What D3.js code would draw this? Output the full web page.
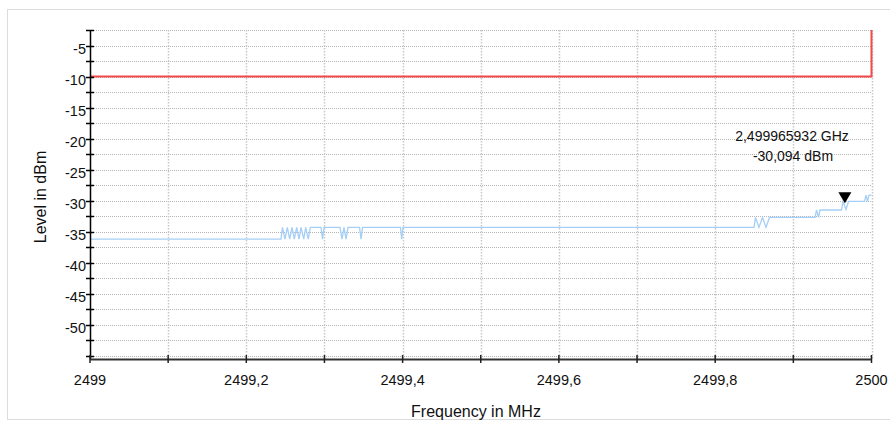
<!DOCTYPE html>
<html><head><meta charset="utf-8">
<script src="https://cdn.jsdelivr.net/npm/d3@7"></script>
<style>
html,body{margin:0;padding:0;background:#fff;}
svg{display:block;font-family:"Liberation Sans",Arial,sans-serif;}
</style></head>
<body>
<svg id="chart" width="890" height="421"></svg>
<script>
// ---- data ----
const xDomain = [2499, 2500];
const yDomain = [-55.5, -2.5];
const xTickValues = [2499, 2499.1, 2499.2, 2499.3, 2499.4, 2499.5, 2499.6, 2499.7, 2499.8, 2499.9, 2500];
const xTickLabels = ["2499", "", "2499,2", "", "2499,4", "", "2499,6", "", "2499,8", "", "2500"];
const yTickValues = [-5, -10, -15, -20, -25, -30, -35, -40, -45, -50];
const yTickLabels = ["-5", "-10", "-15", "-20", "-25", "-30", "-35", "-40", "-45", "-50"];
const limitFreq = [2499, 2500, 2500];
const limitLevel = [-10, -10, -2.5];
const traceFreq = [
  2499.0000, 2499.2444, 2499.2463, 2499.2495, 2499.2525, 2499.2555, 2499.2585, 2499.2614,
  2499.2645, 2499.2674, 2499.2700, 2499.2735, 2499.2760, 2499.2793, 2499.2819, 2499.2956,
  2499.2975, 2499.2994, 2499.3199, 2499.3225, 2499.3250, 2499.3276, 2499.3301, 2499.3449,
  2499.3468, 2499.3487, 2499.3973, 2499.3989, 2499.4005, 2499.8497, 2499.8516, 2499.8560,
  2499.8605, 2499.8650, 2499.8695, 2499.9277, 2499.9296, 2499.9322, 2499.9341, 2499.9616,
  2499.9635, 2499.9674, 2499.9706, 2499.9911, 2499.9930, 2499.9949, 2499.9968, 2500.0000
];
const traceLevel = [
  -36.2, -36.2, -34.3, -36.2, -34.3, -36.2, -34.3, -36.2,
  -34.3, -36.2, -34.3, -36.2, -34.3, -36.2, -34.3, -34.3,
  -36.2, -34.3, -34.3, -36.2, -34.3, -36.2, -34.3, -34.3,
  -36.2, -34.3, -34.3, -36.2, -34.3, -34.3, -32.7, -34.3,
  -32.7, -34.3, -32.7, -32.7, -31.5, -32.7, -31.5, -31.5,
  -30.1, -31.4, -30.1, -30.1, -29.1, -30.1, -29.1, -29.1
];
const markerFreq = 2499.965932;
const markerLevel = -30.094;
const markerLabel = ["2,499965932 GHz", "-30,094 dBm"];
const xTitle = "Frequency in MHz";
const yTitle = "Level in dBm";

// ---- layout ----
const svg = d3.select("#chart");
const L = 90, R = 871.5, T = 30, B = 359;
const x = d3.scaleLinear().domain(xDomain).range([L, R]);
const y = d3.scaleLinear().domain(yDomain).range([B, T]);

// outer frame
svg.append("rect").attr("x", 7.5).attr("y", 9.5).attr("width", 890).attr("height", 410)
  .attr("fill", "#fff").attr("stroke", "#dcdcdc").attr("stroke-width", 1);

// grid
const yMinor = d3.range(-55, -2.4, 2.5);
svg.append("g").selectAll("line").data(yMinor).join("line")
  .attr("x1", L).attr("x2", R)
  .attr("y1", d => Math.round(y(d)) + 0.5).attr("y2", d => Math.round(y(d)) + 0.5)
  .attr("stroke", "#b4b4b4").attr("stroke-width", 1).attr("stroke-dasharray", "1,1");
svg.append("g").selectAll("line").data(xTickValues.slice(1)).join("line")
  .attr("x1", d => Math.round(x(d)) + 0.5).attr("x2", d => Math.round(x(d)) + 0.5)
  .attr("y1", T).attr("y2", B)
  .attr("stroke", "#c8c8c8").attr("stroke-width", 1.5).attr("stroke-dasharray", "1.5,1.5");

// limit line
svg.append("path")
  .datum(limitFreq.map((f, i) => [f, limitLevel[i]]))
  .attr("d", d3.line().x(d => x(d[0])).y(d => y(d[1])))
  .attr("fill", "none").attr("stroke", "#f24a4a").attr("stroke-width", 2);

// trace
svg.append("path")
  .datum(traceFreq.map((f, i) => [f, traceLevel[i]]))
  .attr("d", d3.line().x(d => x(d[0])).y(d => y(d[1])))
  .attr("fill", "none").attr("stroke", "#a6cff7").attr("stroke-width", 1.3);

// y axis
const yAxis = d3.axisLeft(y).tickValues(yMinor).tickSize(0).tickFormat("");
const yg = svg.append("g").attr("transform", `translate(${L},0)`).call(yAxis);
yg.select(".domain").attr("stroke", "#000").attr("stroke-width", 1.5);
svg.append("g").selectAll("line").data(yMinor).join("line")
  .attr("x1", L - 4).attr("x2", L + 4)
  .attr("y1", d => Math.round(y(d)) + 0.5).attr("y2", d => Math.round(y(d)) + 0.5)
  .attr("stroke", "#000").attr("stroke-width", 1.5);
svg.append("g").selectAll("text").data(yTickValues).join("text")
  .attr("x", L - 4).attr("y", d => y(d) + 3)
  .attr("dy", "0.35em").attr("text-anchor", "end")
  .attr("font-size", "14.5px").attr("fill", "#111")
  .text((d, i) => yTickLabels[i]);

// x axis
const xAxis = d3.axisBottom(x).tickValues(xTickValues).tickSize(0).tickFormat("");
const xg = svg.append("g").attr("transform", `translate(0,${B})`).call(xAxis);
xg.select(".domain").attr("stroke", "#333").attr("stroke-width", 2);
svg.append("g").selectAll("line").data(xTickValues).join("line")
  .attr("x1", d => x(d)).attr("x2", d => x(d))
  .attr("y1", B - 4).attr("y2", B + 4)
  .attr("stroke", "#222").attr("stroke-width", 1.5);
svg.append("g").selectAll("text").data(xTickValues).join("text")
  .attr("x", d => x(d)).attr("y", 385)
  .attr("text-anchor", "middle").attr("font-size", "14.5px").attr("fill", "#111")
  .text((d, i) => xTickLabels[i]);

// titles
svg.append("text").attr("x", 476).attr("y", 417).attr("text-anchor", "middle")
  .attr("font-size", "16px").attr("fill", "#111").text(xTitle);
svg.append("text").attr("transform", "translate(46,197) rotate(-90)")
  .attr("text-anchor", "middle").attr("font-size", "16px").attr("fill", "#111").text(yTitle);

// marker
const mx = x(markerFreq), my = y(markerLevel);
svg.append("path")
  .attr("d", `M${mx - 6.5},${my - 9} L${mx + 6.5},${my - 9} L${mx},${my + 2} Z`)
  .attr("fill", "#000");
svg.append("text").attr("x", 792).attr("y", 141).attr("text-anchor", "middle")
  .attr("font-size", "14px").attr("fill", "#111").text(markerLabel[0]);
svg.append("text").attr("x", 793).attr("y", 161).attr("text-anchor", "middle")
  .attr("font-size", "14px").attr("fill", "#111").text(markerLabel[1]);
</script>
</body></html>
